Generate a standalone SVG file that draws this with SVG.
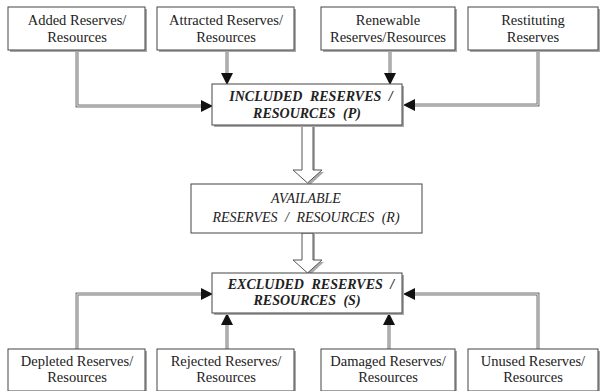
<svg xmlns="http://www.w3.org/2000/svg" width="603" height="391" viewBox="0 0 603 391">
<style>
.shadow{fill:#a8a8a8}
.box{fill:#fff;stroke:#444;stroke-width:1}
.t{font-family:"Liberation Serif",serif;font-size:14.5px;fill:#222;text-anchor:middle}
.c{font-family:"Liberation Serif",serif;font-size:14px;fill:#222;text-anchor:middle;font-style:italic;word-spacing:4px}
.b{font-weight:bold}
.lo{fill:none;stroke:#777;stroke-width:3}
.li{fill:none;stroke:#e6e6e6;stroke-width:1}
.ah{fill:#111}
.hollow{fill:#fff;stroke:#555;stroke-width:1}
</style>
<rect width="603" height="391" fill="#fff"/>
<g id="connectors">
<path class="lo" d="M77,50 V106 H202"/><path class="li" d="M77,50 V106 H202"/>
<path class="lo" d="M227,50 V74"/><path class="li" d="M227,50 V74"/>
<path class="lo" d="M390,50 V74"/><path class="li" d="M390,50 V74"/>
<path class="lo" d="M538,50 V105 H412"/><path class="li" d="M538,50 V105 H412"/>
<path class="lo" d="M77,349 V294 H202"/><path class="li" d="M77,349 V294 H202"/>
<path class="lo" d="M227,349 V323"/><path class="li" d="M227,349 V323"/>
<path class="lo" d="M389,349 V323"/><path class="li" d="M389,349 V323"/>
<path class="lo" d="M538,349 V294 H412"/><path class="li" d="M538,349 V294 H412"/>
<polygon class="ah" points="201,100 201,112 213,106"/>
<polygon class="ah" points="221,73 233,73 227,85"/>
<polygon class="ah" points="384,73 396,73 390,85"/>
<polygon class="ah" points="415,99 415,111 403,105"/>
<polygon class="ah" points="201,288 201,300 213,294"/>
<polygon class="ah" points="221,325 233,325 227,313"/>
<polygon class="ah" points="383,325 395,325 389,313"/>
<polygon class="ah" points="415,288 415,300 403,294"/>
<polygon fill="#aaa" points="304,126 315,126 315,172 324,172 310,185 296,172 304,172"/>
<polygon class="hollow" points="302,125 313,125 313,170 322,170 307.5,183 293,170 302,170"/>
<polygon fill="#aaa" points="304,234 315,234 315,262 324,262 310,275 296,262 304,262"/>
<polygon class="hollow" points="302,233 313,233 313,260 322,260 307.5,273 293,260 302,260"/>
</g>
<g id="added">
<rect class="shadow" x="10" y="9" width="137" height="43"/>
<rect class="box" x="8" y="7" width="137" height="43"/>
<text class="t" x="77" y="25">Added Reserves/</text>
<text class="t" x="77" y="42">Resources</text>
</g>
<g id="attracted">
<rect class="shadow" x="159" y="9" width="137" height="43"/>
<rect class="box" x="157" y="7" width="137" height="43"/>
<text class="t" x="226" y="25">Attracted Reserves/</text>
<text class="t" x="226" y="42">Resources</text>
</g>
<g id="renewable">
<rect class="shadow" x="323" y="9" width="134" height="43"/>
<rect class="box" x="321" y="7" width="134" height="43"/>
<text class="t" x="388" y="25">Renewable</text>
<text class="t" x="388" y="42">Reserves/Resources</text>
</g>
<g id="restituting">
<rect class="shadow" x="470" y="9" width="130" height="43"/>
<rect class="box" x="468" y="7" width="130" height="43"/>
<text class="t" x="533" y="25">Restituting</text>
<text class="t" x="533" y="42">Reserves</text>
</g>
<g id="included">
<rect class="shadow" x="214" y="86" width="190" height="41"/>
<rect class="box" x="212" y="84" width="190" height="41"/>
<text class="c b" x="311" y="101">INCLUDED RESERVES /</text>
<text class="c b" x="307" y="118">RESOURCES (P)</text>
</g>
<g id="available">
<rect class="box" x="191" y="184" width="231" height="49"/>
<text class="c" x="306" y="203">AVAILABLE</text>
<text class="c" x="306" y="222">RESERVES / RESOURCES (R)</text>
</g>
<g id="excluded">
<rect class="shadow" x="214" y="275" width="190" height="40"/>
<rect class="box" x="212" y="273" width="190" height="40"/>
<text class="c b" x="311" y="289">EXCLUDED RESERVES /</text>
<text class="c b" x="307" y="305">RESOURCES (S)</text>
</g>
<g id="depleted">
<rect class="shadow" x="10" y="351" width="137" height="42"/>
<rect class="box" x="8" y="349" width="137" height="42"/>
<text class="t" x="77" y="366">Depleted Reserves/</text>
<text class="t" x="77" y="382">Resources</text>
</g>
<g id="rejected">
<rect class="shadow" x="159" y="351" width="137" height="42"/>
<rect class="box" x="157" y="349" width="137" height="42"/>
<text class="t" x="226" y="366">Rejected Reserves/</text>
<text class="t" x="226" y="382">Resources</text>
</g>
<g id="damaged">
<rect class="shadow" x="323" y="351" width="134" height="42"/>
<rect class="box" x="321" y="349" width="134" height="42"/>
<text class="t" x="388" y="366">Damaged Reserves/</text>
<text class="t" x="388" y="382">Resources</text>
</g>
<g id="unused">
<rect class="shadow" x="470" y="351" width="130" height="42"/>
<rect class="box" x="468" y="349" width="130" height="42"/>
<text class="t" x="533" y="366">Unused Reserves/</text>
<text class="t" x="533" y="382">Resources</text>
</g>
</svg>
